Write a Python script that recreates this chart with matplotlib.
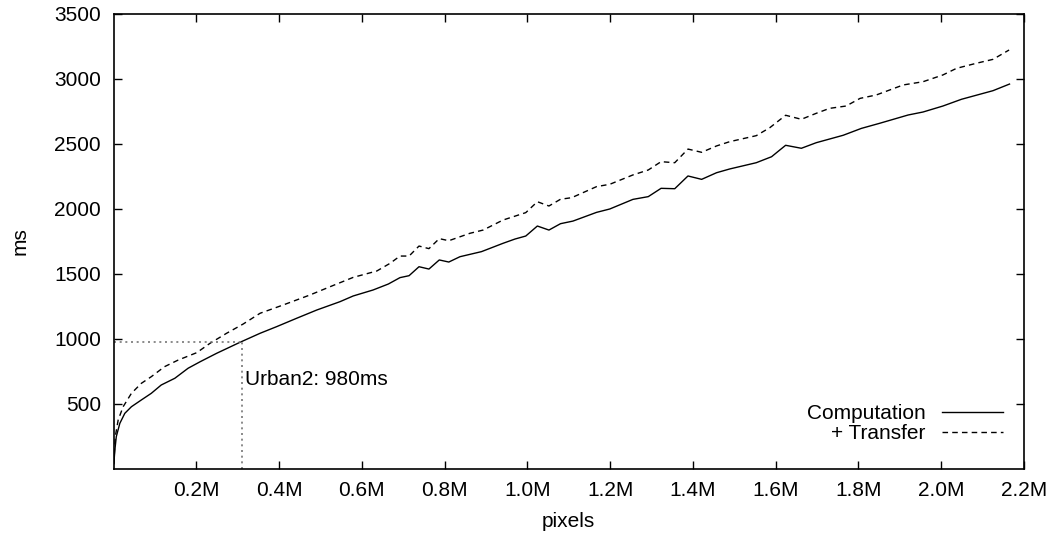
import numpy as np
import matplotlib
matplotlib.use("Agg")
import matplotlib.pyplot as plt

x_comp = [0.0005, 0.003, 0.0065, 0.015, 0.027, 0.043, 0.067, 0.091, 0.115, 0.148,
          0.180, 0.209, 0.249, 0.305,
          0.354, 0.394, 0.442, 0.491, 0.547, 0.579, 0.627, 0.664, 0.692, 0.714,
          0.738, 0.762, 0.787, 0.810, 0.837, 0.889, 0.941, 0.970, 0.996, 1.024,
          1.052, 1.080, 1.110, 1.167, 1.199, 1.255, 1.292, 1.323, 1.356, 1.388,
          1.421, 1.457, 1.489, 1.553, 1.590, 1.610, 1.624, 1.662, 1.698, 1.763,
          1.807, 1.851, 1.920, 1.956, 2.004, 2.049, 2.125, 2.165]
y_comp = [40, 146, 249, 351, 428, 479, 531, 582, 646, 698,
          775, 825, 890, 974,
          1044, 1095, 1159, 1223, 1287, 1331, 1377, 1423, 1472, 1487,
          1556, 1538, 1608, 1592, 1633, 1672, 1736, 1769, 1792, 1869,
          1838, 1887, 1907, 1974, 2000, 2074, 2095, 2159, 2156, 2254,
          2228, 2279, 2308, 2356, 2402, 2454, 2490, 2467, 2510, 2567,
          2620, 2659, 2723, 2746, 2792, 2844, 2910, 2961]

x_transfer = [0.0005, 0.004, 0.011, 0.023, 0.043, 0.067, 0.091, 0.123, 0.156, 0.201,
              0.233, 0.273,
              0.313, 0.354, 0.410, 0.474, 0.523, 0.579, 0.636, 0.668, 0.692, 0.714,
              0.738, 0.762, 0.787, 0.810, 0.861, 0.893, 0.941, 0.996, 1.024, 1.052,
              1.080, 1.107, 1.167, 1.199, 1.255, 1.292, 1.323, 1.356, 1.388, 1.421,
              1.457, 1.489, 1.553, 1.586, 1.624, 1.662, 1.698, 1.730, 1.770, 1.804,
              1.843, 1.908, 1.956, 2.004, 2.037, 2.085, 2.125, 2.164]
y_transfer = [40, 249, 377, 479, 582, 659, 710, 787, 838, 895,
              967, 1044,
              1115, 1198, 1262, 1338, 1402, 1474, 1523, 1582, 1638, 1638,
              1715, 1695, 1772, 1756, 1813, 1838, 1915, 1972, 2056, 2023,
              2075, 2087, 2172, 2190, 2262, 2300, 2364, 2356, 2461, 2436,
              2485, 2518, 2564, 2626, 2721, 2690, 2736, 2774, 2792, 2851,
              2877, 2954, 2979, 3031, 3082, 3121, 3151, 3223]

urban_x = 0.31   # Mio. Pixel
urban_ms = 980

x_ticks = [0.2, 0.4, 0.6, 0.8, 1.0, 1.2, 1.4, 1.6, 1.8, 2.0, 2.2]
x_ticklabels = ['0.2M', '0.4M', '0.6M', '0.8M', '1.0M', '1.2M', '1.4M',
                '1.6M', '1.8M', '2.0M', '2.2M']
y_ticks = [500, 1000, 1500, 2000, 2500, 3000, 3500]

plt.rcParams['font.family'] = ['Liberation Sans', 'DejaVu Sans']
plt.rcParams['font.size'] = 15

fig = plt.figure(figsize=(10.51, 5.36), dpi=100)
ax = fig.add_axes([0.1081, 0.125, 0.8662, 0.8489])

ax.plot(x_comp, y_comp, color='black', lw=1.0, label='Computation')
ax.plot(x_transfer, y_transfer, color='black', lw=1.0, linestyle=(0, (4, 3)),
        label='+ Transfer')

# Markierung Urban2
ax.plot([0, urban_x], [urban_ms, urban_ms], color='#777777', lw=1.2,
        linestyle=(0, (1.2, 2.2)))
ax.plot([urban_x, urban_x], [0, urban_ms], color='#777777', lw=1.2,
        linestyle=(0, (1.2, 2.2)))
ax.text(urban_x + 0.008, 685, 'Urban2: 980ms', ha='left', va='center')

ax.set_xlim(0, 2.2)
ax.set_ylim(0, 3500)
ax.set_xticks(x_ticks)
ax.set_xticklabels(x_ticklabels)
ax.set_yticks(y_ticks)
ax.tick_params(direction='in', length=6, width=1, top=True, right=True)
ax.tick_params(axis='x', pad=9)
ax.tick_params(axis='y', pad=9)
for s in ax.spines.values():
    s.set_linewidth(1.2)

ax.set_xlabel('pixels', labelpad=8)
ax.set_ylabel('ms', labelpad=18)

ax.legend(loc='lower right', frameon=False, markerfirst=False,
          handlelength=2.9, handletextpad=0.8, labelspacing=0.05,
          borderaxespad=0.4, bbox_to_anchor=(0.995, 0.02))

fig.savefig('out.png', dpi=100)
